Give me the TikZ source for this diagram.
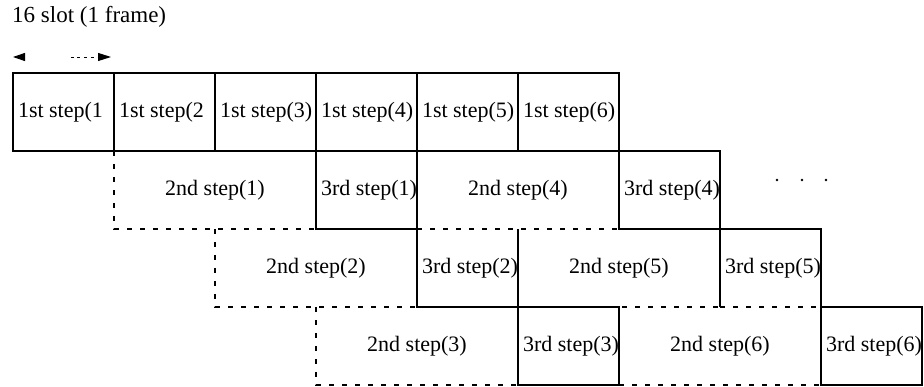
\documentclass[tikz,border=0pt]{standalone}
\usepackage{fontspec}
\setmainfont{Liberation Serif}
\usetikzlibrary{arrows.meta}

\begin{document}
\begin{tikzpicture}[x=1pt,y=-1pt,
  every node/.style={font=\fontsize{22}{26}\selectfont},
  cell/.style={minimum height=78pt, inner xsep=5pt, inner ysep=0pt,
               anchor=north west, outer sep=0pt},
  solidbox/.style={cell, draw, line width=1.2pt},
  openbox/.style={cell},
  wide/.style={minimum width=202pt, minimum height=78pt, inner sep=0pt,
               anchor=north west, outer sep=0pt},
  edge/.style={line width=1.2pt},
  dashline/.style={line width=1.2pt, dash pattern=on 5pt off 8pt}]

\useasboundingbox (0,0) rectangle (924,387);

% frame length caption and its arrow
\node[anchor=west, inner sep=0pt, font=\fontsize{23}{26}\selectfont] (cap) at (12,17) {16 slot (1 frame)};
\coordinate (aL) at (13,57);
\coordinate (aR) at (111,57);
\draw[{Triangle[length=12pt,width=8pt]}-{Triangle[length=13pt,width=8pt]},
      line width=0.9pt,
      dash pattern=on 0pt off 46pt on 3pt off 3.7pt on 3pt off 3.7pt on 3pt off 3.7pt on 3pt off 3.7pt on 2pt off 60pt]
      (aL) -- (aR);

% first row: 1st steps
\node[solidbox] (f1) at (13,73)  {\makebox[91pt][l]{1st step(1}};
\node[solidbox] (f2) at (114,73) {\makebox[91pt][l]{1st step(2}};
\node[solidbox] (f3) at (215,73) {\makebox[91pt][l]{1st step(3)}};
\node[solidbox] (f4) at (316,73) {\makebox[91pt][l]{1st step(4)}};
\node[solidbox] (f5) at (417,73) {\makebox[91pt][l]{1st step(5)}};
\node[solidbox] (f6) at (518,73) {\makebox[91pt][l]{1st step(6)}};

% 2nd steps (two slots wide, dashed outline)
\node[wide] (s1) at (114,151) {2nd step(1)};
\node[wide] (s4) at (417,151) {2nd step(4)};
\node[wide] (s2) at (215,229) {2nd step(2)};
\node[wide] (s5) at (518,229) {2nd step(5)};
\node[wide] (s3) at (316,307) {2nd step(3)};
\node[wide] (s6) at (619,307) {2nd step(6)};

% 3rd steps
\node[solidbox] (t1) at (316,151) {\makebox[91pt][l]{3rd step(1)}};
\node[openbox]  (t2) at (417,229) {\makebox[91pt][l]{3rd step(2)}};
\node[solidbox] (t3) at (518,307) {\makebox[91pt][l]{3rd step(3)}};
\node[solidbox] (t4) at (619,151) {\makebox[91pt][l]{3rd step(4)}};
\node[openbox]  (t5) at (720,229) {\makebox[91pt][l]{3rd step(5)}};
\node[solidbox] (t6) at (821,307) {\makebox[91pt][l]{3rd step(6)}};

% 3rd step boxes whose fourth side is dashed
\draw[edge] (t2.north west) -- (t2.south west) -- (t2.south east) -- (t2.north east);
\draw[edge] (t5.south west) -- (t5.north west) -- (t5.north east) -- (t5.south east);
\draw[dashline] (t5.south west) -- (t5.south east);

% dashed outlines of the 2nd steps
\draw[dashline] (s1.north west) -- (s1.south west) -- (s1.south east);
\draw[dashline] (s4.south west) -- (s4.south east);
\draw[dashline] (s2.north west) -- (s2.south west) -- (s2.south east);
\draw[dashline] (s5.south west) -- (s5.south east);
\draw[dashline] (s3.north west) -- (s3.south west) -- (s3.south east);
\draw[dashline] (s6.south west) -- (s6.south east);

% continuation dots
\fill (777,180) circle (1.4pt);
\fill (802,180) circle (1.4pt);
\fill (826,180) circle (1.4pt);

\end{tikzpicture}
\end{document}
